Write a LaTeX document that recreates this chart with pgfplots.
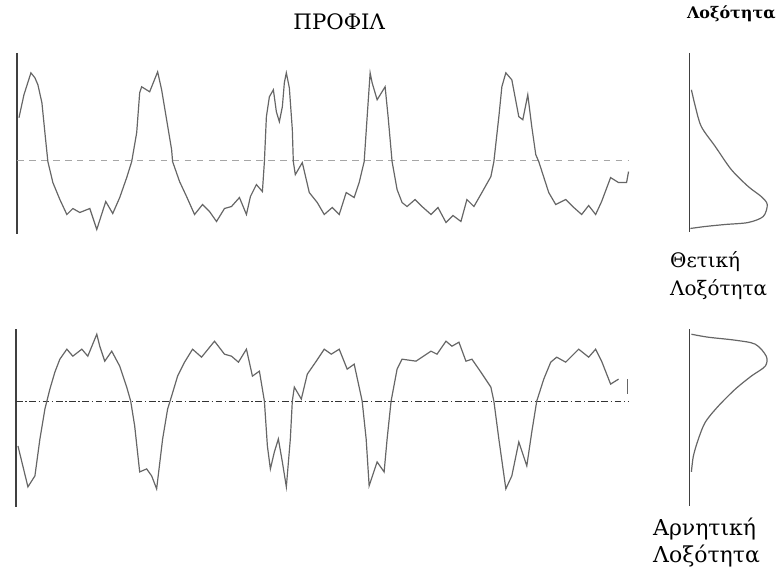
\documentclass[border=0pt]{standalone}
\usepackage{fontspec}
\setmainfont{DejaVu Serif}
\usepackage{pgfplots}
\pgfplotsset{compat=1.18}
\begin{document}
\begin{tikzpicture}
\begin{axis}[hide axis, scale only axis, width=585pt, height=429.75pt,
  xmin=0, xmax=780, ymin=0, ymax=573, y dir=reverse, clip=false]
% bounding frame (invisible)
\addplot[draw=none] coordinates {(0,0) (780,573)};
% vertical axes
\addplot[black!75, line width=1pt] coordinates {(17,53) (17,235)};
\addplot[black!75, line width=1pt] coordinates {(16,330) (16,508)};
\addplot[black!75, line width=1pt] coordinates {(691,53) (691,233)};
\addplot[black!75, line width=1pt] coordinates {(691,330) (691,507)};
% mean lines
\addplot[black!35, line width=0.9pt, dash pattern=on 5pt off 4pt] coordinates {(17,161) (630,161)};
\addplot[black!80, line width=0.8pt, dash pattern=on 5pt off 2pt on 1pt off 2pt] coordinates {(16,402) (630,402)};
% positive-skew profile
\addplot[black!60, line width=0.9pt] coordinates {
(19,118) (24,95) (31,73) (35,78) (38,85) (42,103) (45,133) (48,162) (53,183) (60,200)
(67,215) (73,209) (80,213) (90,209) (97,230) (106,202) (113,214) (120,198) (127,178) (132,162)
(137,133) (140,93) (142,87) (150,92) (158,72) (162,90) (167,120) (172,150) (173,162) (180,182)
(187,197) (195,215) (203,205) (210,212) (217,222) (225,209) (232,207) (240,198) (247,215) (251,197)
(257,185) (263,192) (265,162) (267,117) (270,97) (274,90) (277,112) (280,122) (283,107) (285,83)
(287,73) (290,88) (293,130) (294,162) (296,175) (303,163) (310,193) (318,203) (325,215) (333,208)
(340,215) (347,193) (355,198) (360,183) (365,162) (368,117) (371,73) (373,83) (378,100) (386,87)
(389,117) (393,162) (398,190) (403,203) (408,207) (416,200) (423,207) (432,215) (439,208) (447,223)
(454,216) (462,222) (468,200) (475,207) (483,193) (492,177) (495,162) (500,117) (503,87) (507,73)
(513,80) (520,117) (524,120) (529,95) (533,127) (537,155) (540,162) (550,193) (557,205) (567,200)
(574,207) (583,215) (590,206) (597,215) (603,202) (612,178) (620,183) (628,183) (630,172)};
% negative-skew profile
\addplot[black!60, line width=0.9pt] coordinates {
(18,447) (28,488) (35,477) (40,440) (45,410) (50,390) (55,373) (60,360) (67,350) (73,357)
(82,350) (88,357) (97,335) (100,347) (105,362) (112,352) (120,367) (127,388) (131,402) (135,427)
(140,473) (147,470) (152,477) (157,490) (163,440) (168,410) (172,397) (178,377) (185,363) (193,350)
(202,358) (215,342) (225,355) (232,357) (239,363) (247,350) (253,377) (260,372) (265,402) (268,447)
(271,470) (275,453) (279,440) (283,463) (287,488) (291,440) (293,402) (295,388) (302,400) (308,375)
(317,362) (325,350) (332,355) (340,350) (348,370) (355,365) (363,402) (367,440) (370,487) (378,463)
(385,473) (388,440) (392,402) (398,370) (403,360) (417,362) (432,352) (438,355) (447,342) (453,347)
(460,343) (467,362) (473,360) (482,373) (492,388) (495,402) (500,440) (507,490) (513,477) (520,443)
(528,467) (533,433) (538,402) (545,380) (552,363) (558,358) (567,363) (580,350) (590,358) (597,350)
(603,362) (612,385) (620,380)};
\addplot[black!60, line width=0.9pt] coordinates {(629,380) (629,395)};
% distributions
\addplot[black!60, line width=0.9pt, smooth] coordinates {
(693,90) (697,107) (703,127) (717,147) (733,170) (750,187) (763,197) (769,205) (765,217)
(750,223) (727,225) (707,227) (692,229)};
\addplot[black!60, line width=0.9pt, smooth] coordinates {
(693,335) (710,338) (737,341) (757,345) (768,357) (767,367) (753,377) (737,390) (720,407)
(707,423) (700,440) (695,457) (693,473)};
% texts
\node[font=\fontsize{16}{19}\selectfont] at (axis cs:340,22) {ΠΡΟΦΙΛ};
\node[font=\fontsize{12}{14}\selectfont\bfseries] at (axis cs:733,14) {Λοξότητα};
\node[anchor=west, font=\fontsize{15}{18}\selectfont] at (axis cs:667,262) {Θετική};
\node[anchor=west, font=\fontsize{15}{18}\selectfont] at (axis cs:667,290) {Λοξότητα};
\node[anchor=west, font=\fontsize{16.5}{19}\selectfont] at (axis cs:650,530) {Αρνητική};
\node[anchor=west, font=\fontsize{16.5}{19}\selectfont] at (axis cs:650,557) {Λοξότητα};
\end{axis}
\end{tikzpicture}
\end{document}
